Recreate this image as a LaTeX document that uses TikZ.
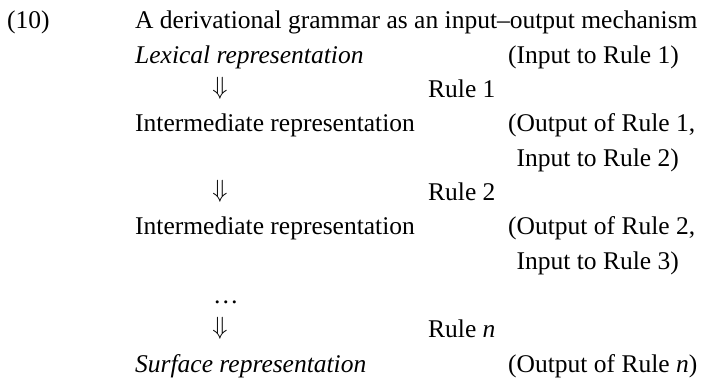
\documentclass[tikz,border=0pt]{standalone}
\usepackage{fontspec}
\setmainfont{Liberation Serif}
\usetikzlibrary{positioning}

\begin{document}
\begin{tikzpicture}[
      x=1pt, y=-1pt,
      txt/.style={anchor=base west, inner sep=0pt, font=\fontsize{25.5}{30}\selectfont},
      arrw/.style={anchor=base, inner sep=0pt, font=\fontsize{25.5}{30}\selectfont}
    ]
    \useasboundingbox (0,0) rectangle (707,379);
    \node[txt] (num)   at (7,29)    {(10)};
    \node[txt] (title) at (135,29)  {A derivational grammar as an input--output mechanism};
    \node[txt] (lex)   at (135,63.3)  {\textit{Lexical representation}};
    \node[txt] (lexc)  at (508,63.3)  {(Input to Rule 1)};
    \node[arrw] (d1)   at (220,94.6)  {$\Downarrow$};
    \node[txt] (r1)    at (428,97.6)  {Rule 1};
    \node[txt] (mid1)  at (135,131.9) {Intermediate representation};
    \node[txt] (mid1a) at (508,131.9) {(Output of Rule 1,};
    \node[txt] (mid1b) at (508,166.2) {\phantom{(}Input to Rule 2)};
    \node[arrw] (d2)   at (220,197.5) {$\Downarrow$};
    \node[txt] (r2)    at (428,200.5) {Rule 2};
    \node[txt] (mid2)  at (135,234.8) {Intermediate representation};
    \node[txt] (mid2a) at (508,234.8) {(Output of Rule 2,};
    \node[txt] (mid2b) at (508,269.1) {\phantom{(}Input to Rule 3)};
    \node[txt] (dots)  at (213,303.4) {\ldots};
    \node[arrw] (dn)   at (220,334.7) {$\Downarrow$};
    \node[txt] (rn)    at (428,337.7) {Rule \textit{n}};
    \node[txt] (surf)  at (135,372)   {\textit{Surface representation}};
    \node[txt] (surfc) at (508,372)   {(Output of Rule \textit{n})};
  \end{tikzpicture}
\end{document}
